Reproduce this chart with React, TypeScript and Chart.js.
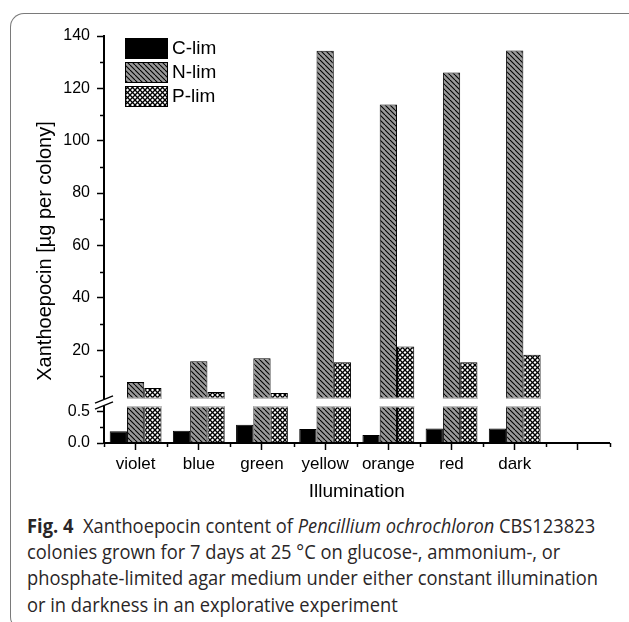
import React, { useEffect, useRef } from 'react';
import { Chart, registerables } from 'chart.js';

Chart.register(...registerables);

// ---- data ----
const categories = ['violet', 'blue', 'green', 'yellow', 'orange', 'red', 'dark', ''];
const seriesNames = ['C-lim', 'N-lim', 'P-lim'];
const cLim = [0.185, 0.195, 0.29, 0.22, 0.126, 0.23, 0.23, null];
const nLim = [7.8, 15.8, 16.9, 134.4, 113.8, 126.1, 134.5, null];
const pLim = [5.5, 4.0, 3.6, 15.4, 21.4, 15.4, 18.2, null];
const upperTicks = [20, 40, 60, 80, 100, 120, 140];
const upperMinorTicks = [10, 30, 50, 70, 90, 110, 130];
const lowerTicks = [0, 0.5];
const lowerMinorTicks = [0.25];
const upperRange = [0, 140];
const lowerRange = [0, 0.64];
const yTitle = 'Xanthoepocin [µg per colony]';
const xTitle = 'Illumination';

const FONT = "'Liberation Sans', Arial, sans-serif";

function makeHatch(): CanvasPattern {
  const s = 5;
  const c = document.createElement('canvas');
  c.width = s;
  c.height = s;
  const g = c.getContext('2d')!;
  g.fillStyle = '#9a9a9a';
  g.fillRect(0, 0, s, s);
  g.strokeStyle = '#000';
  g.lineWidth = 1.1;
  for (const k of [-s, 0, s]) {
    g.beginPath();
    g.moveTo(k, 0);
    g.lineTo(k + s, s);
    g.stroke();
  }
  return g.createPattern(c, 'repeat')!;
}

function makeCross(): CanvasPattern {
  const s = 5;
  const c = document.createElement('canvas');
  c.width = s;
  c.height = s;
  const g = c.getContext('2d')!;
  g.fillStyle = '#fff';
  g.fillRect(0, 0, s, s);
  g.strokeStyle = '#000';
  g.lineWidth = 1.3;
  for (const k of [-s, 0, s]) {
    g.beginPath();
    g.moveTo(k, 0);
    g.lineTo(k + s, s);
    g.stroke();
    g.beginPath();
    g.moveTo(k, s);
    g.lineTo(k + s, 0);
    g.stroke();
  }
  return g.createPattern(c, 'repeat')!;
}

const decorPlugin = {
  id: 'decor',
  beforeDatasetDraw(chart: any, args: any) {
    const meta = args.meta;
    const ys = chart.scales[meta.yAxisID];
    const ca = chart.chartArea;
    const ctx = chart.ctx;
    ctx.save();
    ctx.beginPath();
    ctx.rect(ca.left, ys.top, ca.right - ca.left, ys.bottom - ys.top);
    ctx.clip();
  },
  afterDatasetDraw(chart: any) {
    chart.ctx.restore();
  },
  afterDatasetsDraw(chart: any) {
    const ctx = chart.ctx;
    const ca = chart.chartArea;
    const yTop = chart.scales.yTop;
    const yBot = chart.scales.yBot;
    const x = chart.scales.x;

    // break gap
    const b = yTop.bottom;
    const gTop = b - 3.5;
    const gBot = b + 3.5;
    ctx.save();
    ctx.fillStyle = '#fff';
    ctx.fillRect(ca.left - 3, gTop, ca.right - ca.left + 3, gBot - gTop);
    // light edges where bars are cut
    ctx.fillStyle = '#bdbdbd';
    chart.data.datasets.forEach((d: any, i: number) => {
      const meta = chart.getDatasetMeta(i);
      meta.data.forEach((el: any) => {
        if (!el || el.y === undefined || isNaN(el.y)) return;
        const half = el.width / 2;
        if (d.yAxisID === 'yTop' && el.y < gTop - 1) {
          ctx.fillRect(el.x - half, gTop - 1.5, el.width, 1.5);
        }
        if (d.yAxisID === 'yBot' && el.y < gBot) {
          ctx.fillRect(el.x - half, gBot, el.width, 1.5);
        }
      });
    });
    // break marks
    ctx.strokeStyle = '#000';
    ctx.lineWidth = 1.3;
    for (const off of [-3, 3]) {
      ctx.beginPath();
      ctx.moveTo(ca.left - 9, b + off + 3.6);
      ctx.lineTo(ca.left + 9, b + off - 3.6);
      ctx.stroke();
    }
    // minor ticks
    ctx.lineWidth = 1.5;
    for (const v of upperMinorTicks) {
      const py = Math.round(yTop.getPixelForValue(v)) + 0.5;
      ctx.beginPath();
      ctx.moveTo(ca.left - 4, py);
      ctx.lineTo(ca.left, py);
      ctx.stroke();
    }
    for (const v of lowerMinorTicks) {
      const py = Math.round(yBot.getPixelForValue(v)) + 0.5;
      ctx.beginPath();
      ctx.moveTo(ca.left - 4, py);
      ctx.lineTo(ca.left, py);
      ctx.stroke();
    }
    const w = x.getPixelForValue(1) - x.getPixelForValue(0);
    for (let i = 0; i <= categories.length; i++) {
      const px = Math.round(x.getPixelForValue(0) + (i - 0.5) * w) + 0.5;
      ctx.beginPath();
      ctx.moveTo(px, ca.bottom);
      ctx.lineTo(px, ca.bottom + 4);
      ctx.stroke();
    }

    // legend
    const ds = chart.data.datasets;
    ctx.font = `19px ${FONT}`;
    ctx.textBaseline = 'middle';
    ctx.textAlign = 'left';
    for (let i = 0; i < seriesNames.length; i++) {
      const bx = ca.left + 21;
      const by = ca.top + 2 + i * 24;
      ctx.fillStyle = ds[i].backgroundColor;
      ctx.fillRect(bx, by, 43, 21);
      ctx.lineWidth = 1;
      ctx.strokeStyle = '#000';
      ctx.strokeRect(bx + 0.5, by + 0.5, 42, 20);
      ctx.fillStyle = '#000';
      ctx.fillText(seriesNames[i], bx + 47, by + 11);
    }

    // y title
    ctx.translate(45, 251);
    ctx.rotate(-Math.PI / 2);
    ctx.textAlign = 'center';
    ctx.font = `20px ${FONT}`;
    ctx.fillText(yTitle, 0, 0);
    ctx.restore();
  },
};

function yScale(range: number[], ticks: number[], weight: number, fmt: (v: number) => string) {
  return {
    type: 'linear',
    position: 'left',
    stack: 'ybreak',
    stackWeight: weight,
    min: range[0],
    max: range[1],
    afterBuildTicks: (s: any) => {
      s.ticks = ticks.map((v) => ({ value: v }));
    },
    afterFit: (s: any) => {
      s.width = 60;
    },
    grid: { drawOnChartArea: false, drawTicks: true, tickLength: 7, tickWidth: 1.5, tickColor: '#000' },
    border: { display: true, color: '#000', width: 2 },
    ticks: {
      color: '#000',
      font: { family: FONT, size: 16 },
      padding: 7,
      callback: (v: any) => fmt(Number(v)),
    },
  };
}

export default function App() {
  const ref = useRef<HTMLCanvasElement | null>(null);

  useEffect(() => {
    document.body.style.margin = '0';
    document.body.style.overflow = 'hidden';
    const hatch = makeHatch();
    const cross = makeCross();
    const fills: any[] = ['#000', hatch, cross];
    const series = [cLim, nLim, pLim];
    const datasets: any[] = [];
    for (const axis of ['yTop', 'yBot']) {
      for (let i = 0; i < series.length; i++) {
        datasets.push({
          label: seriesNames[i],
          data: series[i],
          yAxisID: axis,
          stack: seriesNames[i],
          backgroundColor: fills[i],
          borderColor: '#000',
          borderWidth: 1,
          categoryPercentage: 0.82,
          barPercentage: 1,
        });
      }
    }
    const chart = new Chart(ref.current!, {
      type: 'bar',
      data: { labels: categories, datasets },
      options: {
        animation: false,
        responsive: false,
        devicePixelRatio: 1,
        layout: { padding: { left: 44, top: 36, right: 19.5, bottom: 0 } },
        plugins: { legend: { display: false }, tooltip: { enabled: false } },
        scales: {
          x: {
            type: 'category',
            offset: true,
            grid: { offset: false, drawOnChartArea: false, drawTicks: true, tickLength: 7, tickWidth: 1.5, tickColor: '#000' },
            border: { display: true, color: '#000', width: 2, z: 1 },
            ticks: { color: '#000', font: { family: FONT, size: 17 }, padding: 4, autoSkip: false, maxRotation: 0 },
            title: { display: true, text: xTitle, color: '#000', font: { family: FONT, size: 19 }, padding: { top: 0, bottom: 7 } },
            afterFit: (s: any) => {
              s.height = 67;
            },
          },
          yBot: yScale(lowerRange, lowerTicks, 40.5, (v) => v.toFixed(1)),
          yTop: yScale(upperRange, upperTicks, 366.5, (v) => String(v)),
        } as any,
      },
      plugins: [decorPlugin as any],
    });
    return () => chart.destroy();
  }, []);

  const captionFont = "'Open Sans', 'Noto Sans', sans-serif";
  const lineStyle: React.CSSProperties = {
    position: 'absolute',
    left: 27,
    whiteSpace: 'nowrap',
    fontFamily: captionFont,
    fontSize: 20,
    lineHeight: '26px',
    color: '#2a2627',
    transform: 'scaleX(0.915)',
    transformOrigin: 'left center',
  };

  return (
    <div style={{ position: 'absolute', left: 0, top: 0, width: 629, height: 622, overflow: 'hidden', background: '#fff' }}>
      <div
        style={{
          position: 'absolute',
          left: 10,
          top: 13,
          width: 700,
          height: 616,
          borderLeft: '1.5px solid #7a7a7a',
          borderTop: '1.5px solid #7a7a7a',
          borderBottom: '1.5px solid #7a7a7a',
          borderTopLeftRadius: 14,
          borderBottomLeftRadius: 12,
          boxSizing: 'border-box',
        }}
      />
      <canvas ref={ref} width={629} height={510} style={{ position: 'absolute', left: 0, top: 0 }} />
      <div style={{ ...lineStyle, top: 513 }}>
        <b>Fig. 4</b>&nbsp; Xanthoepocin content of <i>Pencillium ochrochloron</i> CBS123823
      </div>
      <div style={{ ...lineStyle, top: 539 }}>colonies grown for 7 days at 25 °C on glucose-, ammonium-, or</div>
      <div style={{ ...lineStyle, top: 565 }}>phosphate-limited agar medium under either constant illumination</div>
      <div style={{ ...lineStyle, top: 592 }}>or in darkness in an explorative experiment</div>
    </div>
  );
}
